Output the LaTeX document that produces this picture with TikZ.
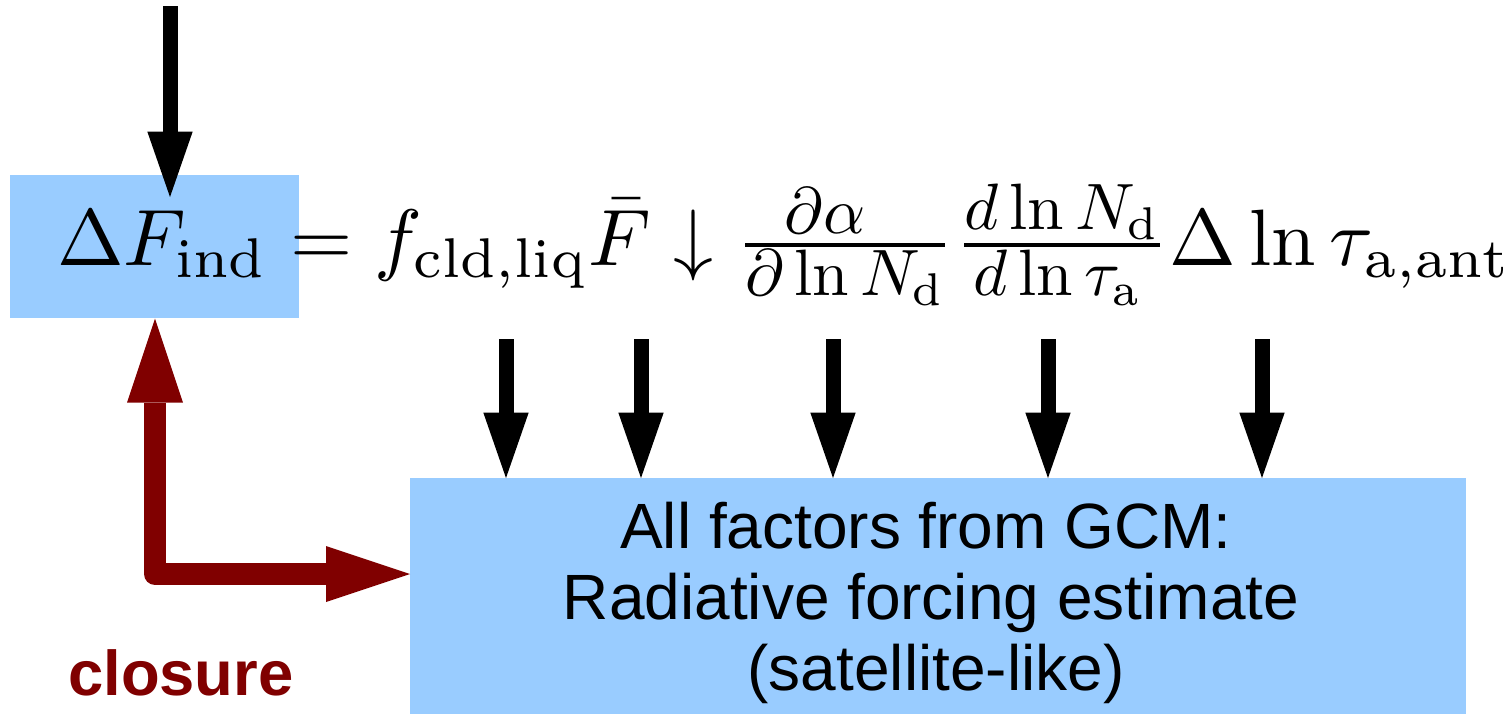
\documentclass[tikz,border=0pt]{standalone}
\usepackage{amsmath}
\usepackage{graphicx}
\usepackage{fontspec}
\setsansfont{Liberation Sans}
\usetikzlibrary{arrows.meta}
\definecolor{boxblue}{HTML}{99CCFF}
\definecolor{closered}{HTML}{800000}
\newcommand\frpart[1]{\scalebox{0.82}{$\textstyle #1$}}
\tikzset{
  bluebox/.style={fill=boxblue, draw=none, inner sep=0pt, anchor=north west},
  factorarrow/.style={line width=11.25pt, -{Triangle[width=34pt,length=49pt,line width=0pt]}},
  closurearrow/.style={line width=16.5pt, color=closered, line join=round,
    {Triangle[width=42pt,length=63pt,line width=0pt]}-{Triangle[width=42pt,length=63pt,line width=0pt]}},
  boxtext/.style={font=\sffamily\fontsize{48}{54}\selectfont, anchor=base, inner sep=0pt},
}
\begin{document}
\begin{tikzpicture}[x=0.75pt,y=-0.75pt]
\useasboundingbox (0,0) rectangle (1511,714);
% boxes
\node[bluebox, minimum width=216.75pt, minimum height=107.25pt] (lhsbox) at (10,175) {};
\node[bluebox, minimum width=792pt, minimum height=177pt] (gcm) at (410,478) {};
% formula
\node[anchor=base west, inner sep=0pt] (formula) at (57,265)
  {\scalebox{6}{$\Delta F_{\mathrm{ind}} = f_{\mathrm{cld,liq}}\bar{F}\downarrow\frac{\frpart{\partial\alpha}}{\frpart{\partial\ln N_{\mathrm{d}}}}\frac{\frpart{d\ln N_{\mathrm{d}}}}{\frpart{d\ln\tau_{\mathrm{a}}}}\Delta\ln\tau_{\mathrm{a,ant}}$}};
% box text
\node[boxtext] (l1) at (926,548) {All factors from GCM:};
\node[boxtext] (l2) at (931,619) {Radiative forcing estimate};
\node[boxtext] (l3) at (936,690) {(satellite-like)};
% closure label
\node[anchor=base west, inner sep=0pt, text=closered, font=\sffamily\bfseries\fontsize{47.5}{52}\selectfont] (closure) at (68,695) {closure};
% top arrow
\coordinate (topstart) at (170,6);
\coordinate (topend) at (170,197);
\draw[factorarrow] (topstart) -- (topend);
% factor arrows
\foreach \i/\x in {1/506,2/641,3/833,4/1048,5/1262}{
  \coordinate (fs\i) at (\x,339);
  \draw[factorarrow] (fs\i) -- (fs\i |- gcm.north);
}
% closure arrow
\coordinate (corner) at (155,574);
\draw[closurearrow] (lhsbox.south -| corner) |- (gcm.west |- corner);
\end{tikzpicture}
\end{document}
